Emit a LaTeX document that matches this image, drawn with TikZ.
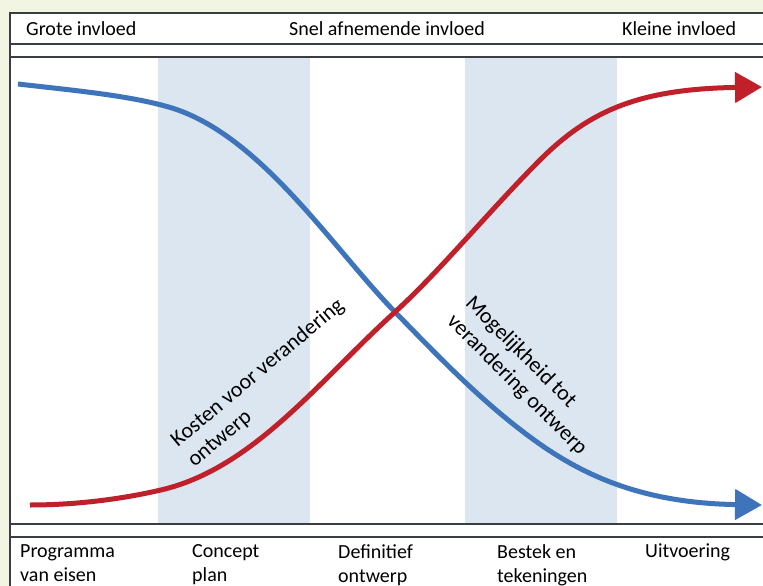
\documentclass[tikz,border=0pt]{standalone}
\usepackage{fontspec}
\setmainfont{Carlito}
\usepackage{tikz}
\usetikzlibrary{arrows.meta,positioning}
\definecolor{pagebg}{HTML}{F2F5E1}
\definecolor{bandblue}{HTML}{DCE6F1}
\definecolor{costblue}{HTML}{3D74BA}
\definecolor{chancered}{HTML}{C0202A}
\definecolor{framegray}{HTML}{3A3D42}
\tikzset{
  frameline/.style={draw=framegray, line width=2pt},
  phaseband/.style={fill=bandblue, draw=none},
  headtext/.style={font=\fontsize{20}{24}\selectfont, anchor=west, inner sep=0pt},
  phasetext/.style={font=\fontsize{20}{24}\selectfont, align=left, anchor=north west, inner sep=0pt},
  curvetext/.style={font=\fontsize{22}{26}\selectfont, align=left, inner sep=0pt},
  curvearrow/.style={line width=5pt, -{Triangle[length=27pt,width=30pt]}}
}

\begin{document}
\begin{tikzpicture}[x=1pt,y=-1pt]
  \useasboundingbox (0,0) rectangle (763,586);
  \fill[pagebg] (0,0) rectangle (763,586);
  \fill[white] (10,13) rectangle (763,586);

  % phases shaded
  \fill[phaseband] (158,58) rectangle (310,523);
  \fill[phaseband] (465,58) rectangle (617,523);

  % frame
  \draw[frameline] (10,586) -- (10,13) -- (763,13);
  \draw[frameline] (10,44) -- (763,44);
  \draw[frameline] (10,57) -- (763,57);
  \draw[frameline] (10,524) -- (763,524);
  \draw[frameline] (10,537) -- (763,537);

  % header
  \node[headtext] (grote) at (26,29) {Grote invloed};
  \node[headtext] (snel) at (289,29) {Snel afnemende invloed};
  \node[headtext] (kleine) at (622,29) {Kleine invloed};

  % curves
  \coordinate (blueA) at (18,84);
  \coordinate (blueM) at (165,106);
  \coordinate (blueN) at (530,437);
  \coordinate (cross) at (395,312);
  \coordinate (blueB) at (762,505);
  \coordinate (redA) at (30,505);
  \coordinate (redM) at (165,489);
  \coordinate (redN) at (540,160);
  \coordinate (redB) at (762,87);
  \draw[costblue, curvearrow] (blueA) .. controls (70,90) and (125,95) .. (blueM)
    .. controls (257,130) and (330,245) .. (cross)
    .. controls (440,358) and (480,400) .. (blueN)
    .. controls (580,474) and (640,503) .. (blueB);
  \draw[chancered, curvearrow] (redA) .. controls (80,505) and (128,498) .. (redM)
    .. controls (255,466) and (320,380) .. (cross)
    .. controls (440,271) and (490,210) .. (redN)
    .. controls (590,110) and (640,89) .. (redB);

  \node[curvetext, rotate=40] (kosten) at (266,383) {Kosten voor verandering\\ontwerp};
  \node[curvetext, rotate=-45] (mogelijk) at (526,376) {Mogelijkheid tot\\verandering ontwerp};

  % phases
  \node[phasetext] (pve) at (20,544) {Programma\\van eisen};
  \node[phasetext] (concept) at (192,544) {Concept\\plan};
  \node[phasetext] (definitief) at (338,544) {Definitief\\ontwerp};
  \node[phasetext] (bestek) at (497,544) {Bestek en\\tekeningen};
  \node[phasetext] (uitvoering) at (645,544) {Uitvoering};
\end{tikzpicture}
\end{document}
